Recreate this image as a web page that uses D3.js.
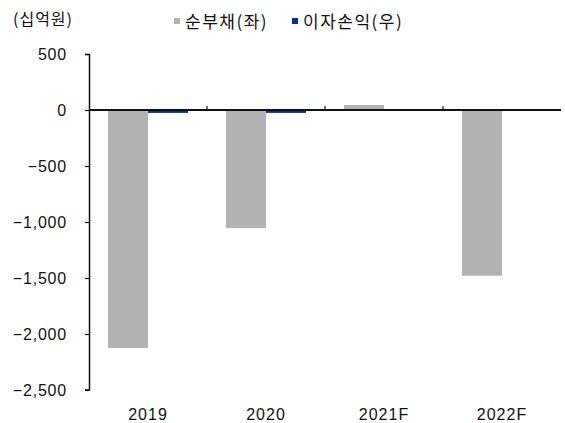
<!DOCTYPE html>
<meta charset="utf-8">
<script src="https://d3js.org/d3.v7.min.js"></script>
<style>
  body { margin: 0; background: #fff; }
  text { font-family: "Liberation Sans", Arial, sans-serif; fill: #111; }
  .kr { font-family: "Noto Sans CJK KR", sans-serif; }
</style>
<div id="chart"></div>
<script>
  // data
  var years = ["2019", "2020", "2021F", "2022F"];
  var netDebt = [-2125, -1054, 45, -1480];      // 순부채 (좌), 십억원
  var interest = [-2.6, -2.6, -0.4, -0.3];     // 이자손익 (우)
  var yTicks = [500, 0, -500, -1000, -1500, -2000, -2500];
  var seriesNames = ["순부채(좌)", "이자손익(우)"];
  var colors = ["#b2b2b2", "#00338f"];

  var W = 565, H = 423;
  var margin = {top: 54, right: 4, bottom: 33, left: 89},
    width = W - margin.left - margin.right,
    height = H - margin.top - margin.bottom;

  var svg = d3.select("#chart").append("svg")
    .attr("width", W).attr("height", H);
  var g = svg.append("g")
    .attr("transform", "translate(" + margin.left + "," + margin.top + ")");

  // scales
  var x = d3.scaleBand().domain(years).range([0, width]);
  var y = d3.scaleLinear().domain([-2500, 500]).range([height, 0]);
  // right axis (hidden in the original)
  var y2 = d3.scaleLinear().domain([-250, 50]).range([height, 0]);
  var bw = 40;

  // gray bars
  g.selectAll(".debt").data(years).enter().append("rect")
    .attr("x", function (d) { return x(d) + x.bandwidth() / 2 - bw; })
    .attr("y", function (d, i) { return y(Math.max(0, netDebt[i])); })
    .attr("width", bw)
    .attr("height", function (d, i) { return Math.abs(y(netDebt[i]) - y(0)); })
    .style("fill", colors[0]);

  // navy bars
  g.selectAll(".int").data(years).enter().append("rect")
    .attr("x", function (d) { return x(d) + x.bandwidth() / 2; })
    .attr("y", function (d, i) { return y2(Math.max(0, interest[i])); })
    .attr("width", bw)
    .attr("height", function (d, i) { return Math.abs(y2(interest[i]) - y2(0)); })
    .style("fill", colors[1]);

  // y axis
  var yAxis = g.append("g")
    .call(d3.axisLeft(y).tickValues(yTicks).tickSize(4).tickPadding(18)
      .tickFormat(function (d) { return d3.format(",")(d).replace("-", "\u2212 "); }));
  yAxis.select(".domain").attr("d", "M-4,0.5H0.5V" + height + "H-4").attr("stroke", "#111").attr("stroke-width", 1.5);
  yAxis.selectAll(".tick line").attr("stroke", "#111").attr("stroke-width", 1.2);
  yAxis.selectAll("text").style("font-size", "16px").attr("letter-spacing", "0.8px").attr("fill", "#111");

  // x axis on zero line
  var xAxis = g.append("g")
    .attr("transform", "translate(0," + y(0) + ")");
  xAxis.append("line").attr("x1", 0).attr("x2", width)
    .attr("stroke", "#111").attr("stroke-width", 2);
  xAxis.selectAll(".xt").data(years.slice(1)).enter().append("line")
    .attr("x1", function (d) { return x(d); }).attr("x2", function (d) { return x(d); })
    .attr("y1", 0).attr("y2", -4)
    .attr("stroke", "#111").attr("stroke-width", 1.2);

  // category labels at the bottom
  g.selectAll(".xl").data(years).enter().append("text")
    .attr("x", function (d) { return x(d) + x.bandwidth() / 2; })
    .attr("y", height + 30)
    .attr("text-anchor", "middle")
    .attr("letter-spacing", "1px")
    .style("font-size", "16px")
    .text(function (d) { return d; });

  // unit label
  svg.append("text").attr("class", "kr")
    .attr("x", 13).attr("y", 25)
    .style("font-size", "16px")
    .attr("letter-spacing", "1px")
    .text("(십억원)");

  // legend
  var legX = [174, 292];
  seriesNames.forEach(function (s, i) {
    svg.append("rect").attr("x", legX[i]).attr("y", 18).attr("width", 6).attr("height", 6)
      .style("fill", colors[i]);
    svg.append("text").attr("class", "kr")
      .attr("x", legX[i] + 11).attr("y", 28)
      .style("font-size", "17px")
      .attr("letter-spacing", "1.5px")
      .text(s);
  });
</script>
